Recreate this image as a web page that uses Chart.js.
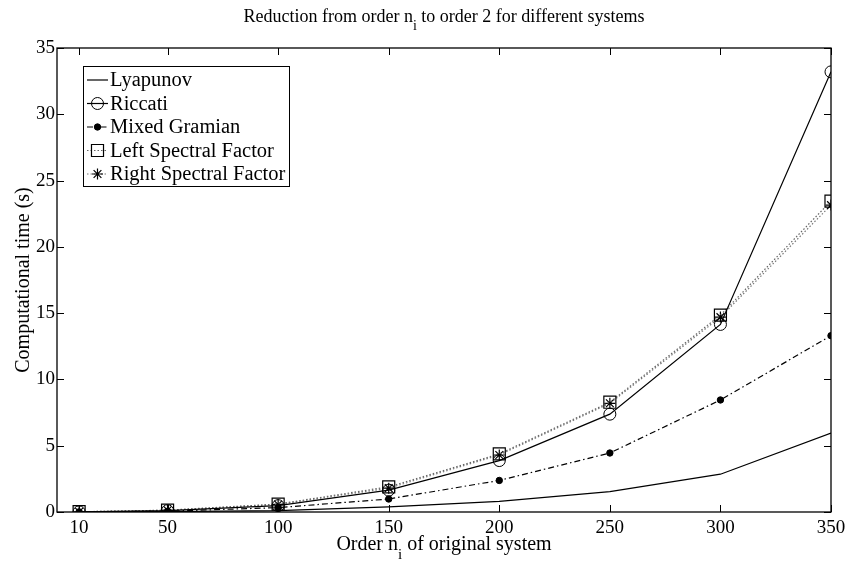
<!DOCTYPE html>
<html>
<head>
<meta charset="utf-8">
<script src="https://cdn.jsdelivr.net/npm/chart.js@4/dist/chart.umd.min.js"></script>
<style>
html,body{margin:0;padding:0;background:#fff;}
#wrap{width:849px;height:561px;position:relative;}
</style>
</head>
<body>
<div id="wrap"><canvas id="c" width="849" height="561"></canvas></div>
<script>
// ---- data ----
const orders = [10, 50, 100, 150, 200, 250, 300, 350];
const xTicks = [10, 50, 100, 150, 200, 250, 300, 350];
const yTicks = [0, 5, 10, 15, 20, 25, 30, 35];
const lyapunov = [0.01, 0.03, 0.1, 0.38, 0.8, 1.53, 2.85, 5.95];
const riccati = [0.01, 0.1, 0.48, 1.65, 3.88, 7.38, 14.15, 33.2];
const mixedGramian = [0.01, 0.06, 0.33, 0.98, 2.38, 4.45, 8.45, 13.3];
const leftSpectral = [0.02, 0.14, 0.6, 1.9, 4.38, 8.28, 14.85, 23.45];
const rightSpectral = [0.02, 0.13, 0.57, 1.8, 4.3, 8.2, 14.7, 23.15];
const seriesNames = ['Lyapunov', 'Riccati', 'Mixed Gramian', 'Left Spectral Factor', 'Right Spectral Factor'];

const pts = arr => arr.map((v, i) => ({x: orders[i], y: v}));
const SERIF = '"Liberation Serif", "Times New Roman", serif';

const datasets = [
  {label: seriesNames[0], data: pts(lyapunov), borderColor: '#000', borderWidth: 1.2,
   pointRadius: 0, pointStyle: false},
  {label: seriesNames[1], data: pts(riccati), borderColor: '#000', borderWidth: 1.2,
   pointStyle: 'circle', pointRadius: 6, pointBorderColor: '#000', pointBackgroundColor: 'rgba(0,0,0,0)', pointBorderWidth: 1},
  {label: seriesNames[2], data: pts(mixedGramian), borderColor: '#000', borderWidth: 1.2, borderDash: [6, 3, 1.5, 3],
   pointStyle: 'circle', pointRadius: 3.2, pointBorderColor: '#000', pointBackgroundColor: '#000', pointBorderWidth: 1},
  {label: seriesNames[3], data: pts(leftSpectral), borderColor: '#666', borderWidth: 1.2, borderDash: [1.5, 2],
   pointStyle: 'rect', pointRadius: 8.5, pointBorderColor: '#000', pointBackgroundColor: 'rgba(0,0,0,0)', pointBorderWidth: 1.2},
  {label: seriesNames[4], data: pts(rightSpectral), borderColor: '#777', borderWidth: 1.2, borderDash: [1.5, 2],
   pointStyle: 'star', pointRadius: 5.5, pointBorderColor: '#000', pointBackgroundColor: '#000', pointBorderWidth: 1.2}
];

const decor = {
  id: 'decor',
  afterDraw(chart) {
    const ctx = chart.ctx;
    const a = chart.chartArea;
    const xs = chart.scales.x, ys = chart.scales.y;
    ctx.save();
    // box
    ctx.strokeStyle = '#000';
    ctx.lineWidth = 1.3;
    ctx.strokeRect(a.left, a.top, a.right - a.left, a.bottom - a.top);
    // inward ticks
    const tl = 7;
    ctx.lineWidth = 1;
    ctx.beginPath();
    xTicks.forEach(t => {
      const px = Math.round(xs.getPixelForValue(t)) + 0.5;
      ctx.moveTo(px, a.bottom); ctx.lineTo(px, a.bottom - tl);
      ctx.moveTo(px, a.top); ctx.lineTo(px, a.top + tl);
    });
    yTicks.forEach(t => {
      const py = Math.round(ys.getPixelForValue(t)) + 0.5;
      ctx.moveTo(a.left, py); ctx.lineTo(a.left + tl, py);
      ctx.moveTo(a.right, py); ctx.lineTo(a.right - tl, py);
    });
    ctx.stroke();
    // tick labels
    ctx.fillStyle = '#000';
    ctx.font = '19px ' + SERIF;
    ctx.textAlign = 'center'; ctx.textBaseline = 'middle';
    xTicks.forEach(t => ctx.fillText(String(t), xs.getPixelForValue(t), a.bottom + 16));
    ctx.textAlign = 'right';
    yTicks.forEach(t => ctx.fillText(String(t), a.left - 2, ys.getPixelForValue(t)));
    // titles with subscript
    const cx = (a.left + a.right) / 2;
    const drawSub = (parts, cxp, y, size) => {
      ctx.font = size + 'px ' + SERIF;
      const w1 = ctx.measureText(parts[0]).width;
      const w3 = ctx.measureText(parts[2]).width;
      ctx.font = Math.round(size * 0.75) + 'px ' + SERIF;
      const w2 = ctx.measureText(parts[1]).width;
      let x = cxp - (w1 + w2 + w3) / 2;
      ctx.textAlign = 'left'; ctx.textBaseline = 'alphabetic';
      ctx.font = size + 'px ' + SERIF;
      ctx.fillText(parts[0], x, y); x += w1;
      ctx.font = Math.round(size * 0.75) + 'px ' + SERIF;
      ctx.fillText(parts[1], x, y + size * 0.45); x += w2;
      ctx.font = size + 'px ' + SERIF;
      ctx.fillText(parts[2], x, y);
    };
    drawSub(['Order n', 'i', ' of original system'], cx, 550, 20);
    drawSub(['Reduction from order n', 'i', ' to order 2 for different systems'], cx, 22, 18);
    // y title
    ctx.save();
    ctx.translate(24, (a.top + a.bottom) / 2);
    ctx.rotate(-Math.PI / 2);
    ctx.font = '20px ' + SERIF;
    ctx.textAlign = 'center'; ctx.textBaseline = 'middle';
    ctx.fillText('Computational time (s)', 0, 0);
    ctx.restore();
    // legend
    const lx = 83, ly = 66, lw = 206, lh = 120;
    ctx.fillStyle = '#fff';
    ctx.fillRect(lx, ly, lw, lh);
    ctx.strokeStyle = '#000'; ctx.lineWidth = 1;
    ctx.strokeRect(lx + 0.5, ly + 0.5, lw, lh);
    chart.data.datasets.forEach((ds, i) => {
      const y = ly + 14 + i * 23.5;
      ctx.save();
      ctx.strokeStyle = ds.borderColor; ctx.lineWidth = 1.2;
      ctx.setLineDash(ds.borderDash || []);
      ctx.beginPath(); ctx.moveTo(lx + 4, y); ctx.lineTo(lx + 25, y); ctx.stroke();
      ctx.restore();
      if (ds.pointStyle) {
        ctx.save();
        ctx.setLineDash([]);
        ctx.strokeStyle = ds.pointBorderColor; ctx.fillStyle = ds.pointBackgroundColor;
        ctx.lineWidth = ds.pointBorderWidth;
        Chart.helpers.drawPoint(ctx, {pointStyle: ds.pointStyle, radius: ds.pointRadius, borderWidth: ds.pointBorderWidth, rotation: 0}, lx + 14.5, y);
        ctx.restore();
      }
      ctx.fillStyle = '#000';
      ctx.font = '20.5px ' + SERIF;
      ctx.textAlign = 'left'; ctx.textBaseline = 'middle';
      ctx.fillText(ds.label, lx + 27, y + 1);
    });
    ctx.restore();
  }
};

new Chart(document.getElementById('c'), {
  type: 'line',
  data: {datasets},
  options: {
    responsive: false,
    animation: false,
    layout: {padding: {top: 48, right: 18, left: 0, bottom: 0}},
    plugins: {legend: {display: false}, title: {display: false}, tooltip: {enabled: false}},
    elements: {line: {tension: 0}},
    scales: {
      x: {type: 'linear', min: 0, max: 350,
          afterBuildTicks: s => { s.ticks = xTicks.map(v => ({value: v})); },
          afterFit: s => { s.height = 49; },
          ticks: {display: false}, grid: {display: false}, border: {display: false}},
      y: {type: 'linear', min: 0, max: 35,
          afterBuildTicks: s => { s.ticks = yTicks.map(v => ({value: v})); },
          afterFit: s => { s.width = 57; },
          ticks: {display: false}, grid: {display: false}, border: {display: false}}
    }
  },
  plugins: [decor]
});
</script>
</body>
</html>
